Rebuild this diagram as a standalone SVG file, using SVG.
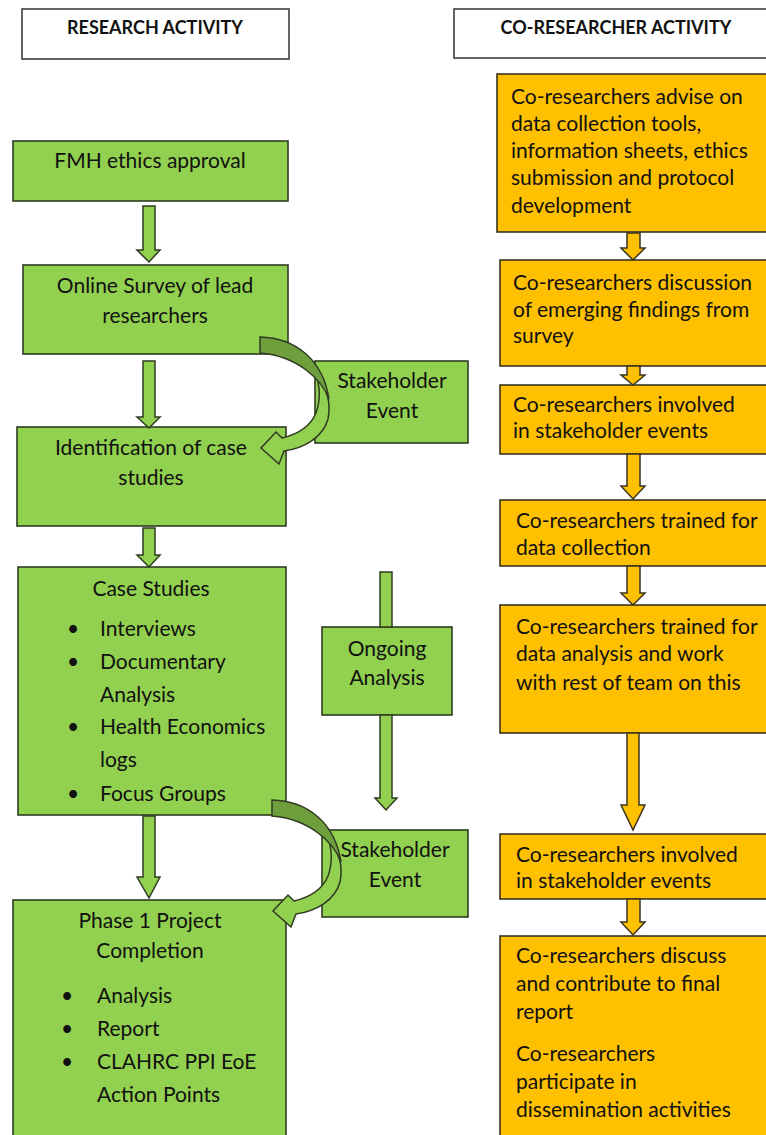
<svg xmlns="http://www.w3.org/2000/svg" width="766" height="1135" viewBox="0 0 766 1135">
<style>
text{font-family:Lato,"Liberation Sans",sans-serif;font-size:21px;fill:#111}
.hd{font-weight:bold;font-size:18px}
.c{text-anchor:middle}
.g{fill:#92D050;stroke:#2f3b22;stroke-width:1.6}
.o{fill:#FFC000;stroke:#3a3320;stroke-width:1.6}
.h{fill:#fff;stroke:#333;stroke-width:1.5}
.ga{fill:#92D050;stroke:#2f3b22;stroke-width:1.5}
.gd{fill:#6f9e3c;stroke:#2f3b22;stroke-width:1.5}
.oa{fill:#FFC000;stroke:#3a3320;stroke-width:1.5}
</style>
<rect width="766" height="1135" fill="#fff"/>
<g id="hdr-research"><rect class="h" x="22" y="9" width="267" height="50"/><text class="hd c" x="155" y="34">RESEARCH ACTIVITY</text></g>
<g id="hdr-coresearch"><rect class="h" x="454" y="9" width="330" height="49"/><text class="hd c" x="616" y="34">CO-RESEARCHER ACTIVITY</text></g>

<g id="fmh"><rect class="g" x="13" y="141" width="275" height="60"/><text class="c" x="150" y="168">FMH ethics approval</text></g>
<g id="survey"><rect class="g" x="23" y="265" width="265" height="89"/><text class="c" x="155" y="293">Online Survey of lead</text><text class="c" x="155" y="323">researchers</text></g>
<g id="stake1"><rect class="g" x="315" y="361" width="153" height="82"/><text class="c" x="392" y="388">Stakeholder</text><text class="c" x="392" y="418">Event</text></g>
<g id="ident"><rect class="g" x="17" y="427" width="269" height="99"/><text class="c" x="151" y="455">Identification of case</text><text class="c" x="151" y="485">studies</text></g>
<g id="cases"><rect class="g" x="18" y="567" width="268" height="248"/><text class="c" x="151" y="596">Case Studies</text>
<text x="67" y="636">•</text><text x="100" y="636">Interviews</text>
<text x="67" y="669">•</text><text x="100" y="669">Documentary</text>
<text x="100" y="702">Analysis</text>
<text x="67" y="734">•</text><text x="100" y="734">Health Economics</text>
<text x="100" y="767">logs</text>
<text x="67" y="801">•</text><text x="100" y="801">Focus Groups</text></g>
<g id="ongoing"><rect class="g" x="322" y="627" width="130" height="88"/><text class="c" x="387" y="656">Ongoing</text><text class="c" x="387" y="685">Analysis</text></g>
<g id="stake2"><rect class="g" x="322" y="830" width="146" height="87"/><text class="c" x="395" y="857">Stakeholder</text><text class="c" x="395" y="887">Event</text></g>
<g id="phase1"><rect class="g" x="13" y="900" width="273" height="250"/><text class="c" x="150" y="928">Phase 1 Project</text><text class="c" x="150" y="958">Completion</text>
<text x="61" y="1003">•</text><text x="97" y="1003">Analysis</text>
<text x="61" y="1036">•</text><text x="97" y="1036">Report</text>
<text x="61" y="1069">•</text><text x="97" y="1069">CLAHRC PPI EoE</text>
<text x="97" y="1102">Action Points</text></g>

<g id="co1"><rect class="o" x="497" y="74" width="290" height="158"/><text x="511" y="104">Co-researchers advise on</text><text x="511" y="131">data collection tools,</text><text x="511" y="158">information sheets, ethics</text><text x="511" y="185">submission and protocol</text><text x="511" y="213">development</text></g>
<g id="co2"><rect class="o" x="500" y="260" width="290" height="106"/><text x="513" y="290">Co-researchers discussion</text><text x="513" y="317">of emerging findings from</text><text x="513" y="343">survey</text></g>
<g id="co3"><rect class="o" x="500" y="385" width="290" height="69"/><text x="513" y="412">Co-researchers involved</text><text x="513" y="438">in stakeholder events</text></g>
<g id="co4"><rect class="o" x="500" y="500" width="290" height="66"/><text x="516" y="528">Co-researchers trained for</text><text x="516" y="555">data collection</text></g>
<g id="co5"><rect class="o" x="500" y="605" width="290" height="128"/><text x="516" y="634">Co-researchers trained for</text><text x="516" y="661">data analysis and work</text><text x="516" y="690">with rest of team on this</text></g>
<g id="co6"><rect class="o" x="500" y="834" width="290" height="65"/><text x="516" y="862">Co-researchers involved</text><text x="516" y="888">in stakeholder events</text></g>
<g id="co7"><rect class="o" x="500" y="936" width="290" height="220"/><text x="516" y="963">Co-researchers discuss</text><text x="516" y="991">and contribute to final</text><text x="516" y="1019">report</text><text x="516" y="1061">Co-researchers</text><text x="516" y="1089">participate in</text><text x="516" y="1117">dissemination activities</text></g>

<g id="connectors">
<path class="ga" d="M143,206 H155 V250 H160 L149,262 L137,250 H143 Z"/>
<path class="ga" d="M143,361 H155 V417 H160 L149,428 L137,417 H143 Z"/>
<path class="ga" d="M143,528 H155 V555 H160 L149,567 L137,555 H143 Z"/>
<path class="ga" d="M143,816 H155 V877 H160 L149,898 L137,877 H143 Z"/>
<path class="ga" d="M380,572 H392 V627 H380 Z"/>
<path class="ga" d="M380,715 H392 V798 H397 L386,810 L375,798 H380 Z"/>
<g id="curve1">
<path class="ga" d="M315,372 C327,387 331,404 328,419 C323,437 305,448 284,451 L279,464 L261,448 L276,432 L282,438 C299,434 311,425 316,413 C320,402 321,388 315,372 Z"/>
<path class="gd" d="M260,337 C296,338 323,360 329,399 C322,380 298,356 260,353 Z"/>
</g>
<g id="curve2" transform="translate(12,463)">
<path class="ga" d="M315,372 C327,387 331,404 328,419 C323,437 305,448 284,451 L279,464 L261,448 L276,432 L282,438 C299,434 311,425 316,413 C320,402 321,388 315,372 Z"/>
<path class="gd" d="M260,337 C296,338 323,360 329,399 C322,380 298,356 260,353 Z"/>
</g>
<path class="oa" d="M627,233 H640 V248 H645 L633,260 L621,248 H627 Z"/>
<path class="oa" d="M627,366 H640 V375 H645 L633,385 L621,375 H627 Z"/>
<path class="oa" d="M627,454 H640 V486 H645 L633,499 L621,486 H627 Z"/>
<path class="oa" d="M627,566 H640 V593 H645 L633,605 L621,593 H627 Z"/>
<path class="oa" d="M627,733 H639 V805 H645 L633,830 L621,805 H627 Z"/>
<path class="oa" d="M627,899 H640 V922 H645 L633,935 L621,922 H627 Z"/>
</g>
</svg>
